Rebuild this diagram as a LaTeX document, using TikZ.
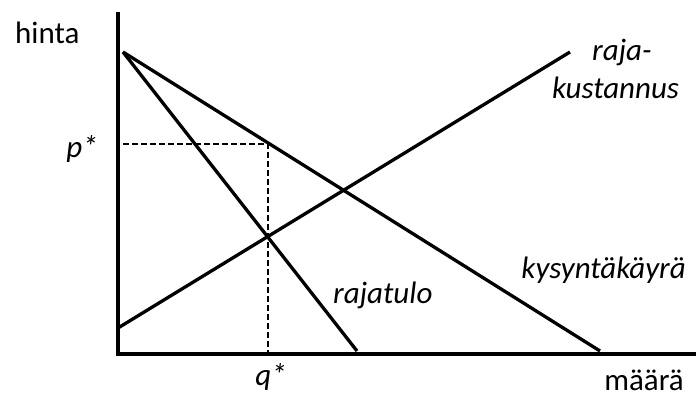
\documentclass[tikz,border=0pt]{standalone}
\usepackage{fontspec}
\setmainfont{Carlito}
\begin{document}
\begin{tikzpicture}[x=1pt,y=-1pt,
  axis/.style={line width=4pt},
  curve/.style={line width=3.3pt},
  guide/.style={line width=1.5pt,dash pattern=on 6pt off 3pt},
  lbl/.style={inner sep=0pt,font=\fontsize{31}{36}\selectfont},
  ilbl/.style={lbl,font=\fontsize{31}{36}\selectfont\itshape}]
\useasboundingbox (0,0) rectangle (696,399);
% axes
\coordinate (ytop) at (118,12);
\coordinate (orig) at (118,354);
\coordinate (xend) at (696,354);
\draw[axis] (ytop) -- (orig) -- (xend);
% curves
\coordinate (dstart) at (123,52);
\coordinate (dend) at (600,351);
\coordinate (mrend) at (357,351);
\coordinate (mcstart) at (118,328);
\coordinate (mcend) at (570,52);
\coordinate (eq) at (268,238);
\coordinate (pq) at (268,144);
\coordinate (pstar) at (123,144);
\coordinate (qbase) at (268,352);
\draw[curve] (dstart) -- (dend);
\draw[curve] (dstart) -- (mrend);
\draw[curve] (mcstart) -- (mcend);
\draw[guide] (pstar) -- (pq) -- (qbase);
% labels
\node[lbl,anchor=base west] (hinta) at (15,43) {hinta};
\node[ilbl,anchor=base east] (p) at (98,157) {p*};
\node[ilbl,anchor=base] (q) at (271,385) {q*};
\node[lbl,anchor=base east] (maara) at (684,390) {määrä};
\node[ilbl,anchor=base east] (kys) at (686,278) {kysyntäkäyrä};
\node[ilbl,anchor=base west] (raja) at (333,303) {rajatulo};
\node[ilbl,anchor=base west] (rk1) at (592,60) {raja-};
\node[ilbl,anchor=base west] (rk2) at (552,98) {kustannus};
\end{tikzpicture}
\end{document}
